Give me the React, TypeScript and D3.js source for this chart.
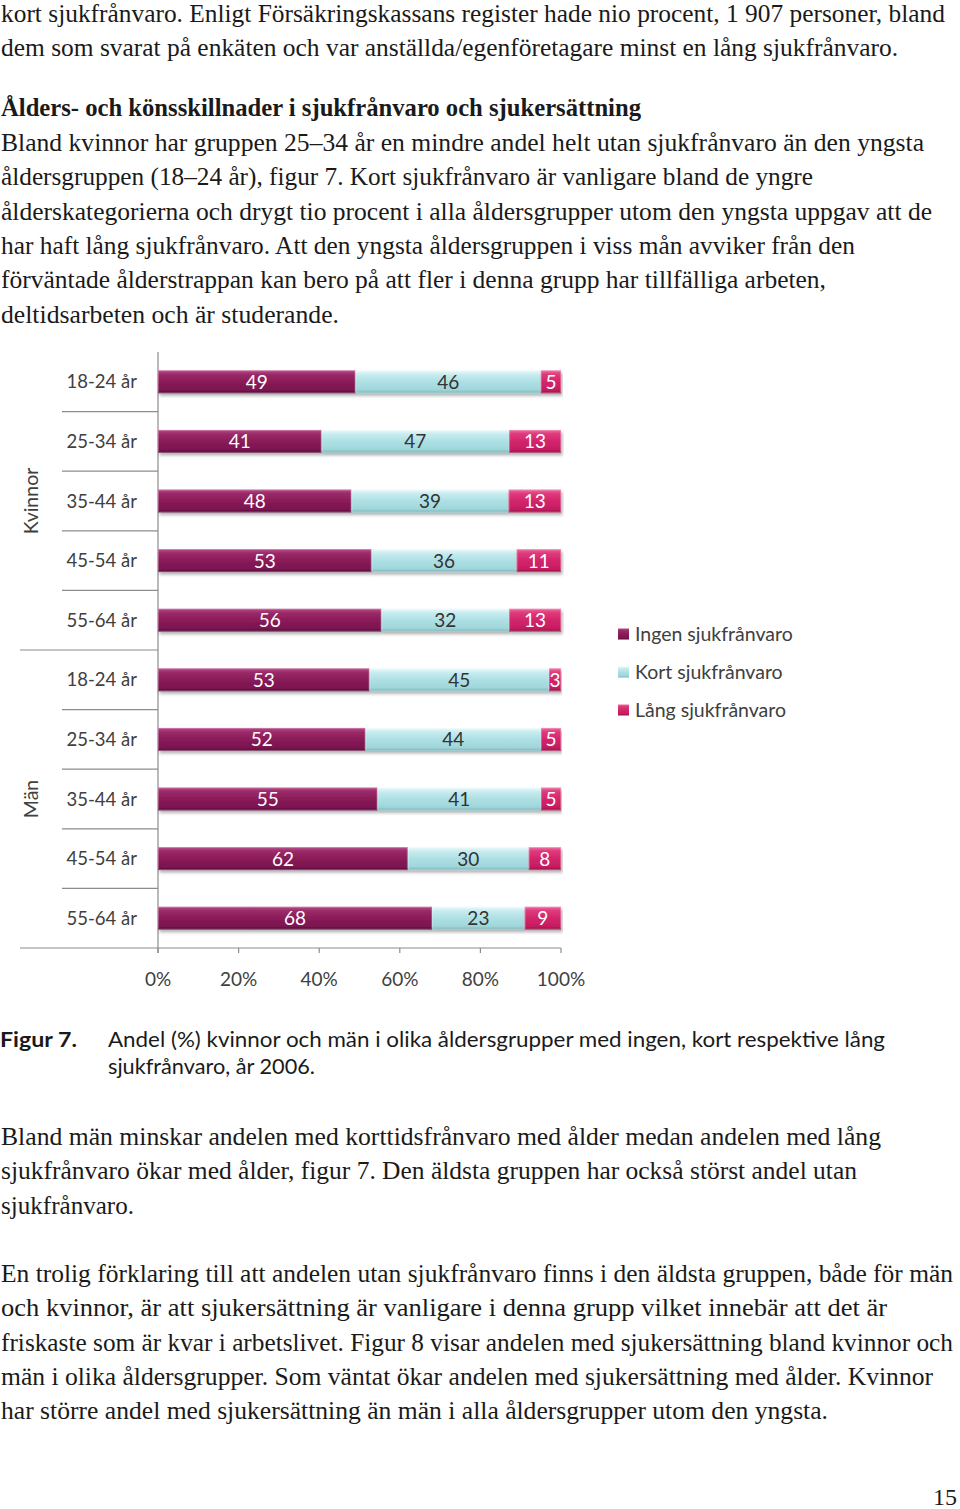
import React from "react";
import * as d3 from "d3";

// ---------- DATA ----------
const groups = ["Kvinnor", "Män"];
const ageGroups = ["18-24 år", "25-34 år", "35-44 år", "45-54 år", "55-64 år"];
const seriesKeys = ["Ingen sjukfrånvaro", "Kort sjukfrånvaro", "Lång sjukfrånvaro"];
const ingenKvinnor = [49, 41, 48, 53, 56];
const kortKvinnor = [46, 47, 39, 36, 32];
const langKvinnor = [5, 13, 13, 11, 13];
const ingenMan = [53, 52, 55, 62, 68];
const kortMan = [45, 44, 41, 30, 23];
const langMan = [3, 5, 5, 8, 9];
const tickValues = [0, 0.2, 0.4, 0.6, 0.8, 1];

// ---------- TEXT ----------
const topLines = [
  "kort sjukfrånvaro. Enligt Försäkringskassans register hade nio procent, 1 907 personer, bland",
  "dem som svarat på enkäten och var anställda/egenföretagare minst en lång sjukfrånvaro.",
];
const heading = "Ålders- och könsskillnader i sjukfrånvaro och sjukersättning";
const para1 = [
  "Bland kvinnor har gruppen 25–34 år en mindre andel helt utan sjukfrånvaro än den yngsta",
  "åldersgruppen (18–24 år), figur 7. Kort sjukfrånvaro är vanligare bland de yngre",
  "ålderskategorierna och drygt tio procent i alla åldersgrupper utom den yngsta uppgav att de",
  "har haft lång sjukfrånvaro. Att den yngsta åldersgruppen i viss mån avviker från den",
  "förväntade ålderstrappan kan bero på att fler i denna grupp har tillfälliga arbeten,",
  "deltidsarbeten och är studerande.",
];
const captionLabel = "Figur 7.";
const captionLines = [
  "Andel (%) kvinnor och män i olika åldersgrupper med ingen, kort respektive lång",
  "sjukfrånvaro, år 2006.",
];
const para2 = [
  "Bland män minskar andelen med korttidsfrånvaro med ålder medan andelen med lång",
  "sjukfrånvaro ökar med ålder, figur 7. Den äldsta gruppen har också störst andel utan",
  "sjukfrånvaro.",
];
const para3 = [
  "En trolig förklaring till att andelen utan sjukfrånvaro finns i den äldsta gruppen, både för män",
  "och kvinnor, är att sjukersättning är vanligare i denna grupp vilket innebär att det är",
  "friskaste som är kvar i arbetslivet. Figur 8 visar andelen med sjukersättning bland kvinnor och",
  "män i olika åldersgrupper. Som väntat ökar andelen med sjukersättning med ålder. Kvinnor",
  "har större andel med sjukersättning än män i alla åldersgrupper utom den yngsta.",
];
const pageNumber = "15";

// layout of text (widths)
const topWidths = [944, 897];
const para1Widths = [923, 812, 931, 854, 825, 338];
const para2Widths = [880, 856, 133];
const para3Widths = [952, 886, 952, 932, 827];
const captionWidths = [777, 207];

const SERIF = "'Liberation Serif', 'DejaVu Serif', serif";
const SANS = "Lato, 'Open Sans', sans-serif";

const grads = [
  ["#b84a88", "#9b2a69", "#8a1b58", "#7b1550", "#56093a"],
  ["#eefafb", "#c8ecef", "#ade0e4", "#a0d6da", "#78b4b9"],
  ["#ee6a9e", "#de3a7b", "#d3256b", "#c61d61", "#951146"],
];
const labelColors = ["#ffffff", "#333333", "#ffffff"];

type Row = { key: string; group: string; age: string; values: number[] };

const rows: Row[] = [];
ageGroups.forEach((a, i) =>
  rows.push({ key: "K" + i, group: groups[0], age: a, values: [ingenKvinnor[i], kortKvinnor[i], langKvinnor[i]] })
);
ageGroups.forEach((a, i) =>
  rows.push({ key: "M" + i, group: groups[1], age: a, values: [ingenMan[i], kortMan[i], langMan[i]] })
);

const table = rows.map((r) => {
  const o: any = { key: r.key };
  seriesKeys.forEach((k, j) => (o[k] = r.values[j]));
  return o;
});

export default function App() {
  const x = d3.scaleLinear().domain([0, 1]).range([158, 561]);
  const y = d3
    .scaleBand<string>()
    .domain(rows.map((r) => r.key))
    .range([352, 948])
    .paddingInner(0.615)
    .paddingOuter(0.3075);
  const stack = d3.stack<any>().keys(seriesKeys).offset(d3.stackOffsetExpand);
  const series = stack(table);
  const step = y.step();
  const bw = y.bandwidth();

  const bodyLine = (t: string, yy: number, w: number, key: string, bold = false) => (
    <text
      key={key}
      x={1}
      y={yy}
      fontFamily={SERIF}
      fontSize={25}
      fontWeight={bold ? "bold" : "normal"}
      fill="#1a1a1a"
      textLength={w}
      lengthAdjust="spacingAndGlyphs"
    >
      {t}
    </text>
  );

  return (
    <svg
      width={960}
      height={1509}
      style={{ position: "absolute", left: 0, top: 0, background: "#fff" }}
    >
      <defs>
        {grads.map((g, i) => (
          <linearGradient key={i} id={"g" + i} x1="0" y1="0" x2="0" y2="1">
            <stop offset="0%" stopColor={g[0]} />
            <stop offset="18%" stopColor={g[1]} />
            <stop offset="50%" stopColor={g[2]} />
            <stop offset="85%" stopColor={g[3]} />
            <stop offset="100%" stopColor={g[4]} />
          </linearGradient>
        ))}
        <filter id="shadow" x="-5%" y="-30%" width="110%" height="180%">
          <feDropShadow dx="1.5" dy="2.5" stdDeviation="1.5" floodColor="#000" floodOpacity="0.3" />
        </filter>
      </defs>

      {/* top body text */}
      {topLines.map((t, i) => bodyLine(t, 22 + i * 34.3, topWidths[i], "t" + i))}
      <text x={1} y={116} fontFamily={SERIF} fontSize={25} fontWeight="bold" fill="#1a1a1a" textLength={640} lengthAdjust="spacingAndGlyphs">
        {heading}
      </text>
      {para1.map((t, i) => bodyLine(t, 151 + i * 34.3, para1Widths[i], "p1" + i))}

      {/* chart */}
      <g fontFamily={SANS}>
        {/* row separators */}
        {rows.slice(0, -1).map((r, i) => {
          const yy = (y(r.key) as number) + bw + (step - bw) / 2;
          const groupBoundary = rows[i + 1].group !== r.group;
          return (
            <line key={"sep" + i} x1={groupBoundary ? 20 : 62} x2={158} y1={yy} y2={yy} stroke="#8c8c8c" strokeWidth={1.2} />
          );
        })}
        {/* bottom axis line */}
        <line x1={20} x2={561} y1={948} y2={948} stroke="#8c8c8c" strokeWidth={1.2} />
        {/* vertical axis */}
        <line x1={158} x2={158} y1={352} y2={953} stroke="#8c8c8c" strokeWidth={1.2} />
        {tickValues.map((t) => (
          <g key={"tk" + t}>
            <line x1={x(t)} x2={x(t)} y1={948} y2={953} stroke="#8c8c8c" strokeWidth={1.2} />
            <text x={x(t)} y={986} textAnchor="middle" fontSize={19} fill="#404040">
              {d3.format(".0%")(t)}
            </text>
          </g>
        ))}

        {/* category labels */}
        {rows.map((r) => (
          <text key={"cl" + r.key} x={137} y={(y(r.key) as number) + bw / 2 + 6.5} textAnchor="end" fontSize={18.5} fill="#404040">
            {r.age}
          </text>
        ))}
        {/* group labels */}
        {groups.map((g) => {
          const gr = rows.filter((r) => r.group === g);
          const y0 = (y(gr[0].key) as number) - (step - bw) / 2;
          const y1 = (y(gr[gr.length - 1].key) as number) + bw + (step - bw) / 2;
          const cy = (y0 + y1) / 2;
          return (
            <text key={"gl" + g} transform={`translate(38,${cy}) rotate(-90)`} textAnchor="middle" fontSize={19.5} fill="#404040">
              {g}
            </text>
          );
        })}

        {/* bars */}
        {series.map((s, si) => (
          <g key={"s" + si}>
            {s.map((d, di) => {
              const k = table[di].key;
              const x0 = x(d[0]);
              const x1 = x(d[1]);
              const yy = y(k) as number;
              return (
                <g key={"b" + di}>
                  <rect x={x0} y={yy} width={x1 - x0} height={bw} fill={`url(#g${si})`} filter="url(#shadow)" />
                  <rect x={x0 + 0.5} y={yy + 0.5} width={Math.max(0, x1 - x0 - 1)} height={bw - 1} fill="none" stroke="#ffffff" strokeOpacity={0.25} strokeWidth={1} />
                  <text x={(x0 + x1) / 2} y={yy + bw / 2 + 7} textAnchor="middle" fontSize={19} fill={labelColors[si]}>
                    {table[di][seriesKeys[si]]}
                  </text>
                </g>
              );
            })}
          </g>
        ))}

        {/* legend */}
        {seriesKeys.map((k, i) => (
          <g key={"lg" + i} transform={`translate(618,${634 + i * 38})`}>
            <rect x={0} y={-5.5} width={11} height={11} fill={`url(#g${i})`} />
            <text x={17} y={6.5} fontSize={19.5} fill="#404040">
              {k}
            </text>
          </g>
        ))}
      </g>

      {/* caption */}
      <text x={0} y={1047} fontFamily={SANS} fontSize={21} fontWeight="bold" fill="#1a1a1a" textLength={77} lengthAdjust="spacingAndGlyphs">
        {captionLabel}
      </text>
      {captionLines.map((t, i) => (
        <text key={"cap" + i} x={108} y={1047 + i * 27} fontFamily={SANS} fontSize={21} fill="#1a1a1a" textLength={captionWidths[i]} lengthAdjust="spacingAndGlyphs">
          {t}
        </text>
      ))}

      {para2.map((t, i) => bodyLine(t, 1145 + i * 34.3, para2Widths[i], "p2" + i))}
      {para3.map((t, i) => bodyLine(t, 1282 + i * 34.3, para3Widths[i], "p3" + i))}

      <text x={957} y={1505} textAnchor="end" fontFamily={SERIF} fontSize={24} fill="#1a1a1a">
        {pageNumber}
      </text>
    </svg>
  );
}
